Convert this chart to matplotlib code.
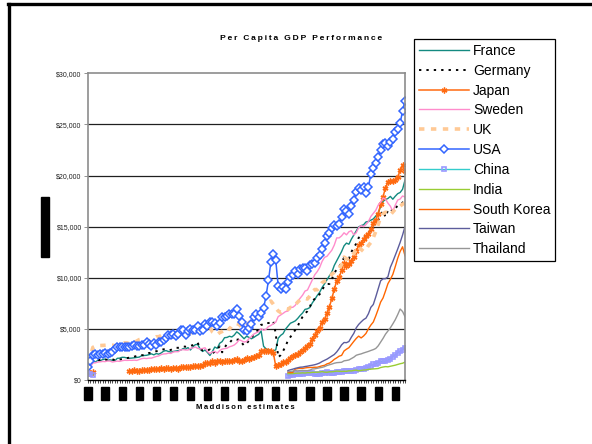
import numpy as np
import matplotlib.pyplot as plt
from matplotlib.lines import Line2D
from matplotlib.patches import Rectangle

plt.rcParams['font.family'] = ['Liberation Sans', 'DejaVu Sans']

# categories: two benchmark years, then annual 1870-1998
years = [1820, 1850] + list(range(1870, 1999))

# per capita GDP, 1990 international dollars
france_early = [1135, 1597]
france = [
    1876, 1751, 1917, 1878, 1999, 2045, 1923, 1969, 1937, 1878,
    2120, 2140, 2220, 2213, 2152, 2128, 2144, 2175, 2214, 2240,
    2376, 2392, 2416, 2480, 2560, 2461, 2587, 2525, 2644, 2821,
    2876, 2787, 2736, 2791, 2831, 2872, 2920, 3069, 3016, 3169,
    2937, 3232, 3458, 3485, 3014, 2790, 2937, 2688, 2396, 2785,
    3227, 3097, 3593, 3756, 4140, 4166, 4278, 4208, 4405, 4710,
    4532, 4285, 4034, 4274, 4178, 4033, 4166, 4332, 4466, 4793,
    3300, 3050, 2950, 2900, 2850, 2950, 4083, 4363, 4537, 4975,
    5270, 5553, 5659, 5783, 6020, 6312, 6554, 6909, 6962, 7092,
    7546, 7877, 8266, 8580, 9043, 9407, 9811, 10194, 10555, 11211,
    11664, 12131, 12568, 13123, 13393, 13279, 13774, 14185, 14579, 14970,
    15106, 15180, 15459, 15508, 15636, 15757, 16031, 16322, 16961, 17474,
    17647, 17759, 17959, 17683, 17974, 18225, 18341, 18656, 19558,
]

germany_early = [1077, 1428]
germany = [
    1839, 1797, 1913, 1977, 2058, 2007, 1959, 1949, 2028, 1940,
    1991, 2004, 2029, 2099, 2142, 2185, 2200, 2286, 2351, 2389,
    2428, 2421, 2517, 2640, 2661, 2760, 2814, 2847, 2949, 3003,
    2985, 2909, 2947, 3076, 3148, 3150, 3219, 3278, 3258, 3285,
    3348, 3408, 3522, 3648, 3059, 2899, 2919, 2902, 2983, 2586,
    2796, 3032, 3278, 2706, 3155, 3532, 3626, 3905, 3986, 3946,
    3973, 3652, 3362, 3558, 3858, 4120, 4451, 4685, 4994, 5406,
    5403, 5567, 5572, 5611, 5769, 4514, 2217, 2436, 2834, 3282,
    3881, 4206, 4553, 4905, 5247, 5797, 6177, 6492, 6737, 7177,
    7705, 7952, 8222, 8386, 8822, 9186, 9388, 9397, 9864, 10440,
    10839, 11077, 11481, 11966, 11990, 11868, 12525, 12951, 13342, 13911,
    14114, 14149, 14040, 14329, 14785, 15140, 15443, 15631, 16092, 16558,
    15929, 16604, 16766, 16480, 16814, 17034, 17107, 17339, 17799,
]

japan_early = [669, 679, 737]   # 1820, 1850, 1870
japan = [  # 1885 onwards
    854, 902, 937, 885, 903,
    1012, 948, 1010, 996, 1089, 1101, 1032, 1041, 1194, 1112,
    1180, 1204, 1114, 1192, 1184, 1119, 1247, 1276, 1266, 1262,
    1304, 1356, 1384, 1387, 1327, 1430, 1630, 1665, 1668, 1827,
    1696, 1860, 1831, 1809, 1829, 1885, 1872, 1870, 1992, 2026,
    1850, 1837, 1962, 2122, 2098, 2120, 2244, 2315, 2449, 2816,
    2874, 2873, 2818, 2822, 2659, 1346, 1444, 1541, 1725, 1800,
    1921, 2126, 2336, 2474, 2582, 2771, 2948, 3136, 3289, 3554,
    3986, 4426, 4777, 5129, 5668, 5934, 6506, 7152, 7983, 8874,
    9714, 10040, 10734, 11434, 11145, 11344, 11669, 12064, 12585, 13163,
    13428, 13754, 14078, 14307, 14773, 15331, 15679, 16251, 17185, 17943,
    18789, 19355, 19482, 19478, 19555, 19849, 20494, 21000, 20413,
]

sweden_early = [1198, 1289]
sweden = [
    1664, 1678, 1754, 1778, 1815, 1797, 1859, 1848, 1758, 1803,
    1846, 1820, 1886, 1929, 1917, 1929, 1920, 1941, 1915, 1998,
    2086, 2122, 2098, 2139, 2138, 2217, 2301, 2353, 2488, 2545,
    2561, 2631, 2597, 2746, 2770, 2768, 2939, 2970, 2936, 2930,
    3091, 3138, 3228, 3096, 3032, 3085, 3150, 2777, 2583, 2747,
    2802, 2631, 2876, 3025, 3067, 3108, 3251, 3320, 3427, 3632,
    3937, 3825, 3719, 3763, 4040, 4242, 4491, 4620, 4725, 5029,
    4857, 4962, 5230, 5334, 5509, 5659, 6199, 6352, 6517, 6690,
    6739, 7084, 7114, 7300, 7700, 8000, 8300, 8700, 8800, 9300,
    9800, 10300, 10600, 11000, 11600, 12000, 12100, 12400, 12700, 13200,
    13900, 13900, 14100, 14400, 14200, 14500, 14600, 14200, 14400, 14900,
    15100, 15000, 15200, 15500, 16000, 16300, 16600, 17100, 17400, 17800,
    17700, 17300, 17000, 16500, 17100, 17600, 17700, 18000, 17900,
]

uk_early = [1706, 2330]
uk = [
    3191, 3299, 3263, 3372, 3380, 3397, 3414, 3385, 3400, 3352,
    3477, 3563, 3632, 3630, 3619, 3552, 3590, 3687, 3809, 3951,
    4009, 3958, 3819, 3791, 4031, 4068, 4228, 4237, 4354, 4493,
    4492, 4450, 4570, 4477, 4475, 4556, 4665, 4741, 4517, 4557,
    4611, 4691, 4693, 4921, 4837, 5069, 5149, 5181, 5207, 4704,
    4548, 4438, 4637, 4746, 4881, 5144, 4953, 5316, 5367, 5503,
    5441, 5138, 5148, 5277, 5608, 5799, 5993, 6141, 6266, 6262,
    6856, 7482, 7615, 7724, 7420, 7056, 6750, 6604, 6746, 6956,
    6907, 7102, 7076, 7357, 7619, 7855, 7904, 7993, 7925, 8229,
    8645, 8849, 8828, 9105, 9519, 9667, 9778, 9956, 10356, 10532,
    10767, 10941, 11294, 12022, 11858, 11768, 12091, 12380, 12720, 13096,
    12777, 12568, 12762, 13159, 13454, 13931, 14514, 15200, 15941, 16261,
    16411, 16159, 16143, 16434, 16700, 16900, 17000, 17200, 17300,
]

usa_early = [1257, 1849]
usa = [
    2445, 2503, 2479, 2580, 2533, 2599, 2562, 2629, 2728, 3004,
    3184, 3187, 3276, 3251, 3240, 3193, 3338, 3403, 3294, 3331,
    3392, 3467, 3700, 3474, 3279, 3578, 3460, 3736, 3716, 3951,
    4091, 4357, 4364, 4459, 4306, 4526, 4900, 4900, 4438, 4775,
    4964, 4907, 4918, 5301, 4799, 4864, 5460, 5248, 5659, 5680,
    5552, 5323, 5540, 6164, 6163, 6286, 6460, 6460, 6501, 6899,
    6213, 5691, 4908, 4777, 5114, 5467, 6204, 6430, 6126, 6561,
    7010, 8206, 9741, 11518, 12333, 11709, 9197, 8886, 9065, 8944,
    9561, 10116, 10316, 10613, 10359, 10897, 10914, 10920, 10631, 11230,
    11328, 11402, 11905, 12242, 12773, 13419, 14134, 14330, 14863, 15179,
    15030, 15304, 15944, 16689, 16491, 16284, 16975, 17567, 18373, 18789,
    18577, 18856, 18325, 18920, 20123, 20717, 21236, 21788, 22499, 23059,
    23201, 22849, 23298, 23616, 24240, 24551, 25129, 26300, 27331,
]

china_early = [600, 600, 530]   # 1820, 1850, 1870
china = [  # 1950 onwards
    439, 479, 537, 554, 558, 575, 619, 637, 693, 697,
    673, 557, 553, 592, 648, 706, 753, 712, 678, 722,
    783, 799, 802, 839, 836, 874, 852, 895, 979, 1040,
    1067, 1103, 1192, 1265, 1396, 1522, 1597, 1706, 1816, 1827,
    1858, 1940, 2098, 2277, 2475, 2653, 2820, 2973, 3117,
]

india = [
    619, 623, 629, 657, 672, 676, 701, 680, 717, 718,
    753, 758, 758, 779, 822, 771, 756, 801, 806, 838,
    868, 858, 837, 853, 848, 897, 889, 937, 966, 895,
    938, 977, 985, 1043, 1060, 1079, 1101, 1125, 1216, 1270,
    1309, 1291, 1341, 1384, 1449, 1522, 1592, 1640, 1746,
]

south_korea = [
    770, 718, 747, 1072, 1111, 1150, 1131, 1182, 1212, 1226,
    1226, 1247, 1245, 1316, 1387, 1436, 1577, 1650, 1813, 2021,
    2167, 2331, 2407, 2841, 3015, 3162, 3476, 3775, 4064, 4294,
    4114, 4302, 4557, 5007, 5375, 5670, 6263, 6916, 7621, 8027,
    8704, 9425, 9841, 10329, 11086, 11901, 12566, 13030, 12152,
]

taiwan = [
    924, 1001, 1062, 1139, 1191, 1253, 1267, 1317, 1354, 1405,
    1444, 1496, 1567, 1664, 1808, 1925, 2040, 2188, 2336, 2496,
    2747, 3072, 3440, 3669, 3651, 3766, 4187, 4559, 5103, 5436,
    5680, 5904, 6051, 6483, 7112, 7386, 8122, 8929, 9700, 9900,
    9910, 10100, 11028, 11581, 12188, 12810, 13455, 14179, 15012,
]

thailand = [
    817, 849, 873, 924, 890, 932, 931, 918, 915, 968,
    1078, 1093, 1146, 1193, 1239, 1308, 1418, 1488, 1560, 1642,
    1694, 1716, 1734, 1874, 1910, 1959, 2091, 2230, 2418, 2495,
    2554, 2643, 2715, 2796, 2889, 2970, 3084, 3338, 3702, 4071,
    4484, 4788, 5107, 5487, 5895, 6390, 6940, 6700, 6205,
]


def series(values, start, early=None):
    """Place a run of annual values on the category axis; gaps stay NaN."""
    out = np.full(len(years), np.nan)
    if early is not None:
        out[:len(early)] = early
    i = years.index(start)
    out[i:i + len(values)] = values
    return out


x = np.arange(len(years))
fig = plt.figure(figsize=(5.92, 4.44), dpi=100)
ax = fig.add_axes([88 / 592, 1 - 380 / 444, 317 / 592, 306.7 / 444])

ax.plot(x, series(france, 1870, france_early), color='#138a80', lw=1.0, label='France')
ax.plot(x, series(germany, 1870, germany_early), color='black', lw=1.4,
        ls=(0, (1.2, 2.6)), label='Germany')
ax.plot(x, series(japan, 1885, japan_early), color='#ff6a10', lw=1.1,
        marker=(6, 2, 0), ms=4.2, mew=1.0, label='Japan')
ax.plot(x, series(sweden, 1870, sweden_early), color='#ff8ccc', lw=1.0, label='Sweden')
ax.plot(x, series(uk, 1870, uk_early), color='#ffc995', lw=2.6,
        ls=(0, (1.5, 1.8)), label='UK')
ax.plot(x, series(usa, 1870, usa_early), color='#3366ff', lw=1.1,
        marker='D', ms=4, mfc='white', mec='#3366ff', mew=1.1, label='USA')
ax.plot(x, series(china, 1950, china_early), color='#33cccc', lw=1.0,
        marker='s', ms=3.2, mfc='none', mec='#9999ff', mew=1.2, label='China')
ax.plot(x, series(india, 1950), color='#99cc33', lw=1.0, label='India')
ax.plot(x, series(south_korea, 1950), color='#ff6600', lw=1.0, label='South Korea')
ax.plot(x, series(taiwan, 1950), color='#5c5c9c', lw=1.0, label='Taiwan')
ax.plot(x, series(thailand, 1950), color='#969696', lw=1.0, label='Thailand')

ax.set_xlim(0, len(years) - 1)
ax.set_ylim(0, 30000)
yt = np.arange(0, 30001, 5000)
ax.set_yticks(yt)
ax.set_yticklabels([f'${v:,.0f}' for v in yt], fontsize=5, color='#222222')
for v in yt[1:-1]:
    ax.axhline(v, color='#202020', lw=0.9, zorder=0)

# year labels every 7th category, drawn as rotated text in black boxes
ax.set_xticks(x[::7])
ax.set_xticklabels([str(years[i]) for i in x[::7]], rotation=90, fontsize=3.5,
                   color='black', va='top', ha='center')
for lab in ax.get_xticklabels():
    lab.set_bbox(dict(facecolor='black', edgecolor='black', pad=0.8))
ax.set_xticks(x, minor=True)
ax.tick_params(axis='x', which='both', length=2.5, width=0.5, color='black', pad=3.5)
ax.tick_params(axis='y', length=3, width=0.6, color='#808080', pad=1.5)

for side in ('left', 'right', 'top'):
    ax.spines[side].set_color('#8c8c8c')
    ax.spines[side].set_linewidth(1.2)
ax.spines['bottom'].set_color('black')
ax.spines['bottom'].set_linewidth(1.0)

fig.text(301 / 592, 1 - 38 / 444, '\u2009'.join('Per Capita GDP Performance'),
         ha='center', va='center', fontsize=6.1, fontweight='bold')
fig.text(245 / 592, 1 - 407 / 444, '\u2009'.join('Maddison estimates'),
         ha='center', va='center', fontsize=5.5, fontweight='bold')

# y-axis title box
fig.patches.append(Rectangle((41 / 592, 1 - 257 / 444), 8 / 592, 60 / 444,
                             transform=fig.transFigure, color='black'))

leg = ax.legend(loc='upper left', bbox_to_anchor=(414 / 592, 1 - 39 / 444),
                bbox_transform=fig.transFigure, borderaxespad=0, fancybox=False,
                edgecolor='black', framealpha=1, fontsize=10, handlelength=3.6,
                handletextpad=0.3, labelspacing=0.42, borderpad=0.35, numpoints=1)
leg.get_frame().set_linewidth(0.9)

# page frame, top and left edges
fig.add_artist(Line2D([8 / 592, 1], [1 - 4 / 444, 1 - 4 / 444], color='black', lw=2.4,
                      transform=fig.transFigure))
fig.add_artist(Line2D([8.5 / 592, 8.5 / 592], [0, 1 - 4 / 444], color='black', lw=2.4,
                      transform=fig.transFigure))

fig.savefig('out.png', dpi=100)
